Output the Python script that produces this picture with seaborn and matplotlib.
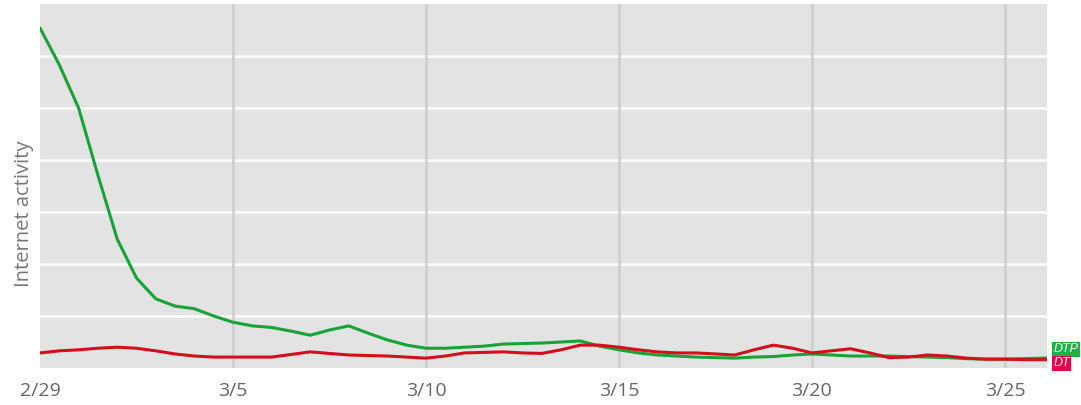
"""
Internet activity, DTP vs DT (2/29 - 3/26)
"""
import pandas as pd
import numpy as np
import matplotlib
matplotlib.use("Agg")
import matplotlib.pyplot as plt
import seaborn as sns

sns.set_style("white")
plt.rcParams["font.family"] = ["Open Sans", "DejaVu Sans"]

# ============================================================
# Data (half-day steps from 2/29)
# ============================================================
timestamps = list(pd.date_range("2020-02-29", "2020-03-26", freq="12h")) + [pd.Timestamp("2020-03-26 02:10")]

dtp = [6.54, 5.83, 5.00, 3.71, 2.48, 1.73, 1.33, 1.19, 1.14, 1.00, 0.88, 0.81,
       0.78, 0.71, 0.63, 0.73, 0.81, 0.67, 0.54, 0.44, 0.38, 0.38,
       0.40, 0.42, 0.46, 0.47, 0.48, 0.50, 0.52, 0.42, 0.35, 0.29,
       0.25, 0.23, 0.21, 0.20, 0.19, 0.21, 0.22, 0.25, 0.27, 0.25,
       0.23, 0.23, 0.23, 0.22, 0.21, 0.20, 0.18, 0.17, 0.17, 0.18,
       0.19, 0.19]

dt = [0.29, 0.33, 0.35, 0.38, 0.40, 0.38, 0.33, 0.27, 0.23, 0.21, 0.21, 0.21,
      0.21, 0.26, 0.31, 0.28, 0.25, 0.24, 0.23, 0.21, 0.19, 0.23,
      0.29, 0.30, 0.31, 0.29, 0.28, 0.35, 0.44, 0.44, 0.40, 0.35,
      0.31, 0.29, 0.29, 0.27, 0.25, 0.35, 0.44, 0.38, 0.29, 0.33,
      0.37, 0.29, 0.20, 0.21, 0.25, 0.23, 0.19, 0.17, 0.17, 0.16,
      0.16, 0.16]

tick_dates = ["2020-02-29", "2020-03-05", "2020-03-10", "2020-03-15", "2020-03-20", "2020-03-25"]
tick_labels = ["2/29", "3/5", "3/10", "3/15", "3/20", "3/25"]

series_names = ["DTP", "DT"]
line_colors = {"DTP": "#17a337", "DT": "#d20f1a"}
tag_colors = {"DTP": "#1cb24a", "DT": "#e6004c"}

df = pd.DataFrame({"date": timestamps, "DTP": dtp, "DT": dt})
long_df = df.melt(id_vars="date", var_name="series", value_name="activity")

# ============================================================
# Plot
# ============================================================
fig = plt.figure(figsize=(10.81, 4.05), dpi=100)
ax = fig.add_axes([40 / 1081, 37 / 405, 1007 / 1081, 364 / 405])
ax.set_facecolor("#e3e3e3")

# horizontal white grid
for yv in range(1, 7):
    ax.axhline(yv, color="white", linewidth=1.8, zorder=0)
# vertical grey grid
for d in tick_dates[1:]:
    ax.axvline(pd.Timestamp(d), color="#cdcdcd", linewidth=1.8, zorder=0)

sns.lineplot(data=long_df, x="date", y="activity", hue="series",
             hue_order=series_names, palette=line_colors,
             linewidth=2.2, legend=False, ax=ax, zorder=3)
for line in ax.get_lines():
    line.set_solid_joinstyle("round")
    line.set_solid_capstyle("round")

ax.set_xlim(timestamps[0], timestamps[-1])
ax.set_ylim(0, 7)
ax.set_yticks([])
ax.set_xticks([pd.Timestamp(d) for d in tick_dates])
ax.set_xticklabels(tick_labels, fontsize=14, color="#666666")
ax.tick_params(axis="x", length=0, pad=10)
for s in ax.spines.values():
    s.set_visible(False)

ax.set_xlabel("")
ax.set_ylabel("Internet activity", fontsize=14.5, color="#777777")
ax.yaxis.set_label_coords(-0.006, 0.423)

# end-of-line tags
last_x = timestamps[-1]
for name, dy in zip(series_names, [6.3, -2.7]):
    ax.annotate(name, xy=(last_x, df[name].iloc[-1]), xytext=(4.6, dy),
                textcoords="offset points", fontsize=9, fontstyle="italic",
                family=["Liberation Sans Narrow", "Liberation Sans", "DejaVu Sans"],
                color="white", va="center", ha="left", annotation_clip=False,
                bbox=dict(boxstyle="square,pad=0.1", fc=tag_colors[name], ec="none"))

plt.savefig("out.png", dpi=100)
plt.close()
